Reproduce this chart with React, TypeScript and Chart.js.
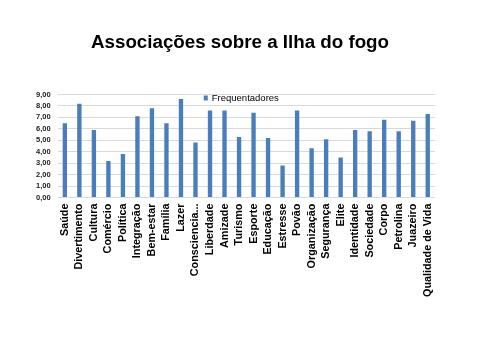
import React, { useEffect, useRef } from "react";
import { Chart, registerables } from "chart.js";

Chart.register(...registerables);

const categories = [
  "Saúde", "Divertimento", "Cultura", "Comércio", "Política", "Integração",
  "Bem-estar", "Família", "Lazer", "Consciencia...", "Liberdade", "Amizade",
  "Turismo", "Esporte", "Educação", "Estresse", "Povão", "Organização",
  "Segurança", "Elite", "Identidade", "Sociedade", "Corpo", "Petrolina",
  "Juazeiro", "Qualidade de Vida",
];

const frequentadores = [
  6.5, 8.2, 5.9, 3.2, 3.8, 7.1, 7.8, 6.5, 8.6, 4.8, 7.6, 7.6, 5.3, 7.4,
  5.2, 2.8, 7.6, 4.3, 5.1, 3.5, 5.9, 5.8, 6.8, 5.8, 6.7, 7.3,
];

const seriesLabel = "Frequentadores";
const titleText = "Associações sobre a Ilha do fogo";
const yMin = 0;
const yMax = 9;
const yStep = 1;

const FONT = "'Liberation Sans', Arial, sans-serif";
const BAR = "#4A7EBB";

const legendInArea = {
  id: "legendInArea",
  afterDraw(chart: any) {
    const { ctx, chartArea } = chart;
    const label = chart.data.datasets[0].label;
    ctx.save();
    ctx.font = `9.5px ${FONT}`;
    const tw = ctx.measureText(label).width;
    const total = 4 + 4 + tw;
    const cx = (chartArea.left + chartArea.right) / 2 - 5;
    const x0 = cx - total / 2;
    const yc = chartArea.top + 3;
    ctx.fillStyle = BAR;
    ctx.fillRect(x0, yc - 2, 4, 5);
    ctx.fillStyle = "#000";
    ctx.textBaseline = "middle";
    ctx.textAlign = "left";
    ctx.fillText(label, x0 + 8, yc + 0.5);
    ctx.restore();
  },
};

export default function App() {
  const ref = useRef<HTMLCanvasElement>(null);
  useEffect(() => {
    if (!ref.current) return;
    const chart = new Chart(ref.current, {
      type: "bar",
      data: {
        labels: categories,
        datasets: [
          {
            label: seriesLabel,
            data: frequentadores,
            backgroundColor: BAR,
            borderWidth: 0,
            categoryPercentage: 1,
            barPercentage: 0.3,
            yAxisID: "y",
          },
        ],
      },
      options: {
        responsive: false,
        maintainAspectRatio: false,
        animation: false,
        layout: { padding: { left: 29, right: 29, top: 0, bottom: 57 } },
        plugins: {
          legend: { display: false },
          tooltip: { enabled: false },
          title: {
            display: true,
            text: titleText,
            color: "#000",
            font: { family: FONT, size: 18.75, weight: "bold" },
            padding: { top: 32, bottom: 40 },
          },
        },
        scales: {
          x: {
            grid: { display: false, drawTicks: false },
            border: { display: false },
            ticks: {
              color: "#000",
              font: { family: FONT, size: 10.8, weight: "bold" },
              minRotation: 90,
              maxRotation: 90,
              autoSkip: false,
              padding: 6,
            },
          },
          y: {
            min: yMin,
            max: yMax,
            grid: { color: "#D9D9D9", drawTicks: false },
            border: { display: false },
            ticks: {
              stepSize: yStep,
              autoSkip: false,
              color: "#222",
              padding: 7,
              font: { family: FONT, size: 7.5, weight: "bold" },
              callback: (v: any) => Number(v).toFixed(2).replace(".", ","),
            },
          },
          yRight: {
            type: "linear",
            position: "right",
            display: true,
            grid: { display: false, drawTicks: false },
            border: { display: false },
            ticks: { display: false },
            afterFit: (scale: any) => {
              scale.width = 16;
            },
          },
        },
      },
      plugins: [legendInArea],
    });
    return () => chart.destroy();
  }, []);
  return (
    <div style={{ position: "absolute", left: 0, top: 0, width: 480, height: 360, background: "#fff" }}>
      <canvas ref={ref} width={480} height={360} />
    </div>
  );
}
